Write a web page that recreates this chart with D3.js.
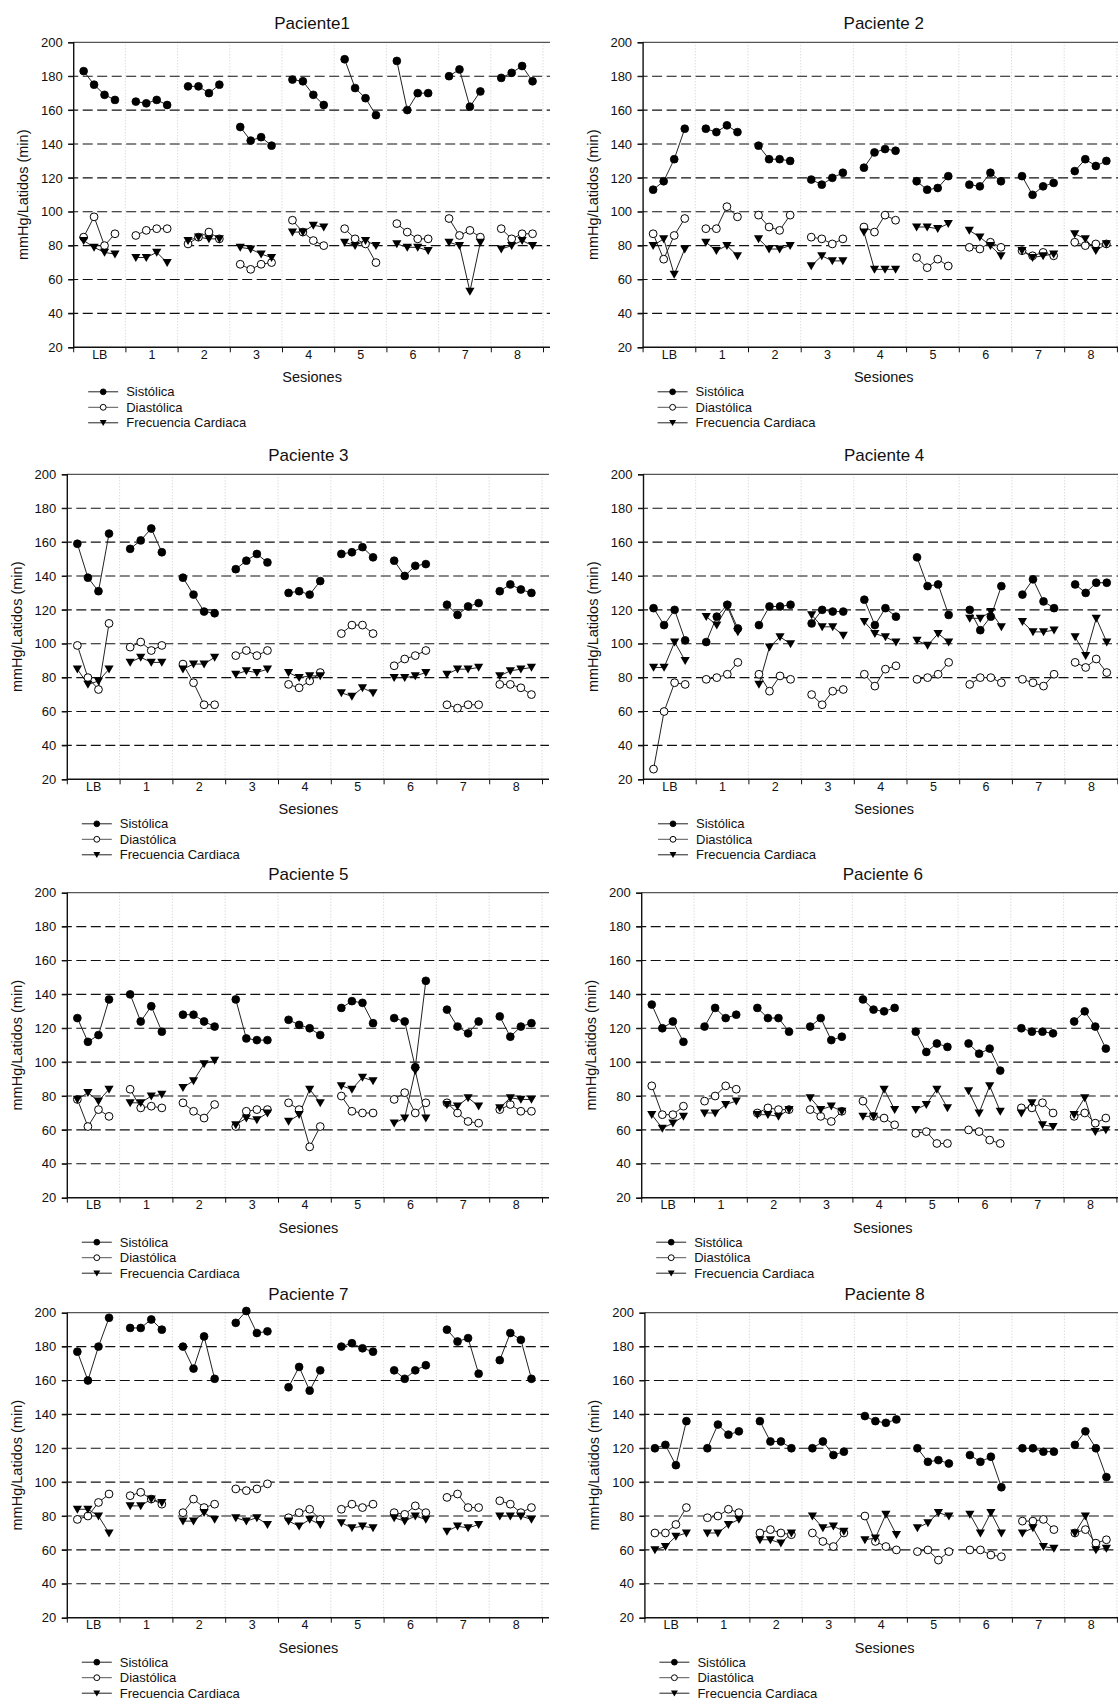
<!DOCTYPE html>
<html>
<head>
<meta charset="utf-8">
<script src="https://cdn.jsdelivr.net/npm/d3@7"></script>
<style>
  html, body { margin: 0; padding: 0; background: #fff; }
  svg { display: block; }
  text { font-family: "Liberation Sans", Arial, sans-serif; fill: #111; }
</style>
</head>
<body>
<svg id="chart" width="1118" height="1700"></svg>
<script>
// ---------------- DATA ----------------
const sessions = ["LB", "1", "2", "3", "4", "5", "6", "7", "8"];
const yTicks = [20, 40, 60, 80, 100, 120, 140, 160, 180, 200];
const gridValues = [40, 60, 80, 100, 120, 140, 160, 180];
const seriesNames = ["Sistólica", "Diastólica", "Frecuencia Cardiaca"];
const titles = ["Paciente1", "Paciente 2", "Paciente 3", "Paciente 4",
                "Paciente 5", "Paciente 6", "Paciente 7", "Paciente 8"];
const xTitle = "Sesiones";
const yTitle = "mmHg/Latidos (min)";

// 4 readings per session, sessions LB,1..8
const p1Sis = [183,175,169,166, 165,164,166,163, 174,174,170,175, 150,142,144,139, 178,177,169,163, 190,173,167,157, 189,160,170,170, 180,184,162,171, 179,182,186,177];
const p1Dia = [85,97,80,87, 86,89,90,90, 81,85,88,84, 69,66,69,70, 95,88,83,80, 90,84,81,70, 93,88,84,84, 96,86,89,85, 90,84,87,87];
const p1Fc  = [83,79,76,75, 73,73,76,70, 83,85,84,84, 79,78,75,73, 88,88,92,91, 82,80,83,80, 81,79,79,77, 82,80,53,82, 78,80,83,80];

const p2Sis = [113,118,131,149, 149,147,151,147, 139,131,131,130, 119,116,120,123, 126,135,137,136, 118,113,114,121, 116,115,123,118, 121,110,115,117, 124,131,127,130];
const p2Dia = [87,72,86,96, 90,90,103,97, 98,91,89,98, 85,84,81,84, 91,88,98,95, 73,67,72,68, 79,78,82,79, 77,74,76,74, 82,80,81,81];
const p2Fc  = [80,84,63,78, 82,77,80,74, 84,78,78,80, 68,74,71,71, 88,66,66,66, 91,91,90,93, 89,85,80,74, 77,73,74,75, 87,84,77,81];

const p3Sis = [159,139,131,165, 156,161,168,154, 139,129,119,118, 144,149,153,148, 130,131,129,137, 153,154,157,151, 149,140,146,147, 123,117,122,124, 131,135,132,130];
const p3Dia = [99,80,73,112, 98,101,96,99, 88,77,64,64, 93,96,93,96, 76,74,78,83, 106,111,111,106, 87,91,93,96, 64,62,64,64, 76,76,74,70];
const p3Fc  = [85,76,78,85, 89,92,89,89, 85,88,88,92, 82,84,83,85, 83,80,81,81, 71,69,74,71, 80,80,81,83, 82,85,85,86, 81,84,85,86];

const p4Sis = [121,111,120,102, 101,116,123,109, 111,122,122,123, 112,120,119,119, 126,111,121,116, 151,134,135,117, 120,108,116,134, 129,138,125,121, 135,130,136,136];
const p4Dia = [26,60,77,76, 79,80,82,89, 82,72,81,79, 70,64,72,73, 82,75,85,87, 79,80,82,89, 76,80,80,77, 79,77,75,82, 89,86,91,83];
const p4Fc  = [86,86,101,90, 116,111,122,107, 76,98,104,100, 117,110,110,105, 113,106,104,101, 102,99,106,101, 115,115,119,110, 113,107,107,108, 104,93,115,101];

const p5Sis = [126,112,116,137, 140,124,133,118, 128,128,124,121, 137,114,113,113, 125,122,120,116, 132,136,135,123, 126,124,97,148, 131,121,117,124, 127,115,121,123];
const p5Dia = [78,62,72,68, 84,73,74,73, 76,71,67,75, 62,71,72,72, 76,72,50,62, 80,71,70,70, 78,82,70,76, 76,70,65,64, 72,75,71,71];
const p5Fc  = [78,82,77,84, 76,76,80,81, 85,89,99,101, 63,67,66,70, 65,69,84,76, 86,84,91,89, 64,67,95,67, 75,74,79,74, 73,79,78,78];

const p6Sis = [134,120,124,112, 121,132,126,128, 132,126,126,118, 121,126,113,115, 137,131,130,132, 118,106,111,109, 111,105,108,95, 120,118,118,117, 124,130,121,108];
const p6Dia = [86,69,69,74, 77,80,86,84, 70,73,72,72, 72,68,65,71, 77,68,67,63, 58,59,52,52, 60,59,54,52, 73,73,76,70, 68,70,64,67];
const p6Fc  = [69,61,64,68, 70,70,75,77, 69,69,68,72, 79,72,74,71, 68,68,84,72, 72,75,84,73, 83,70,86,71, 70,76,63,62, 69,79,59,60];

const p7Sis = [177,160,180,197, 191,191,196,190, 180,167,186,161, 194,201,188,189, 156,168,154,166, 180,182,179,177, 166,161,166,169, 190,183,185,164, 172,188,184,161];
const p7Dia = [78,80,88,93, 92,94,90,87, 82,90,85,87, 96,95,96,99, 79,82,84,78, 84,87,85,87, 82,81,86,82, 91,93,85,85, 89,87,82,85];
const p7Fc  = [84,84,80,70, 86,86,90,88, 77,77,82,78, 79,77,79,75, 77,74,78,75, 76,73,74,73, 79,77,80,78, 71,74,73,75, 80,80,80,78];

const p8Sis = [120,122,110,136, 120,134,128,130, 136,124,124,120, 120,124,116,118, 139,136,135,137, 120,112,113,111, 116,112,115,97, 120,120,118,118, 122,130,120,103];
const p8Dia = [70,70,75,85, 79,80,84,82, 70,72,70,69, 70,65,62,70, 80,65,62,60, 59,60,54,59, 60,60,57,56, 77,77,78,72, 70,72,64,66];
const p8Fc  = [60,62,68,70, 70,70,75,78, 66,66,64,70, 80,73,74,71, 66,67,81,69, 73,76,82,80, 81,70,82,70, 70,73,62,61, 70,80,60,61];

const patients = [
  [p1Sis, p1Dia, p1Fc], [p2Sis, p2Dia, p2Fc],
  [p3Sis, p3Dia, p3Fc], [p4Sis, p4Dia, p4Fc],
  [p5Sis, p5Dia, p5Fc], [p6Sis, p6Dia, p6Fc],
  [p7Sis, p7Dia, p7Fc], [p8Sis, p8Dia, p8Fc]
];

// ---------------- LAYOUT ----------------
const panelLayout = [
  {x0: 73.2,  y0: 42.3,   bw: 52.2}, {x0: 642.6, y0: 42.3,   bw: 52.7},
  {x0: 66.8,  y0: 474.3,  bw: 52.8}, {x0: 643.0, y0: 474.3,  bw: 52.7},
  {x0: 66.8,  y0: 892.7,  bw: 52.8}, {x0: 641.2, y0: 892.7,  bw: 52.8},
  {x0: 66.8,  y0: 1312.7, bw: 52.8}, {x0: 644.4, y0: 1312.7, bw: 52.5}
];
const plotH = 305;
const perSession = 4;

const svg = d3.select("#chart");
svg.append("rect").attr("width", 1118).attr("height", 1700).attr("fill", "#fff");

function triPath(s) {
  return `M${-4.6 * s},${-3.6 * s}L${4.6 * s},${-3.6 * s}L0,${4.4 * s}Z`;
}

function drawMarker(g, type, cx, cy, scale) {
  const r = 3.9 * scale;
  if (type === 0) {
    g.append("circle").attr("cx", cx).attr("cy", cy).attr("r", r)
      .attr("fill", "#000").attr("stroke", "#000").attr("stroke-width", 0.8);
  } else if (type === 1) {
    g.append("circle").attr("cx", cx).attr("cy", cy).attr("r", r)
      .attr("fill", "#fff").attr("stroke", "#000").attr("stroke-width", 1);
  } else {
    g.append("path").attr("d", triPath(scale))
      .attr("transform", `translate(${cx},${cy})`)
      .attr("fill", "#000");
  }
}

patients.forEach((series, pi) => {
  const L = panelLayout[pi];
  const g = svg.append("g");
  const nS = sessions.length;
  const x = d3.scaleLinear().domain([0, nS]).range([L.x0, L.x0 + nS * L.bw]);
  const y = d3.scaleLinear().domain([20, 200]).range([L.y0 + plotH, L.y0]);
  const xEnd = x(nS) + 7;

  // vertical dotted grid at session boundaries
  g.selectAll(".vg").data(d3.range(1, nS + 1)).enter().append("line")
    .attr("x1", d => x(d)).attr("x2", d => x(d))
    .attr("y1", y(200)).attr("y2", y(20))
    .attr("stroke", "#c0c0c0").attr("stroke-width", 0.8)
    .attr("stroke-dasharray", "1,2");

  // horizontal dashed grid
  g.selectAll(".hg").data(gridValues).enter().append("line")
    .attr("x1", L.x0 - 5).attr("x2", xEnd)
    .attr("y1", d => y(d)).attr("y2", d => y(d))
    .attr("stroke", "#111").attr("stroke-width", 1.1)
    .attr("stroke-dasharray", "10,4.5");

  // top frame
  g.append("line").attr("x1", L.x0).attr("x2", xEnd)
    .attr("y1", y(200)).attr("y2", y(200))
    .attr("stroke", "#555").attr("stroke-width", 1.3);

  // y axis
  const yAxis = d3.axisLeft(y).tickValues(yTicks).tickSize(5).tickPadding(5.5);
  const ya = g.append("g").attr("transform", `translate(${L.x0},0)`).call(yAxis);
  ya.select(".domain").attr("stroke", "#111").attr("stroke-width", 1.4);
  ya.selectAll(".tick line").attr("stroke", "#111");
  ya.selectAll(".tick text").style("font-size", "13px").attr("fill", "#222")
    .style("font-family", '"Liberation Sans", Arial, sans-serif');

  // x axis: boundary ticks
  const xAxis = d3.axisBottom(x).tickValues(d3.range(0, nS + 1)).tickSize(5).tickFormat("");
  const xa = g.append("g").attr("transform", `translate(0,${y(20)})`).call(xAxis);
  xa.select(".domain").remove();
  xa.selectAll(".tick line").attr("stroke", "#111");
  g.append("line").attr("x1", L.x0).attr("x2", xEnd)
    .attr("y1", y(20)).attr("y2", y(20))
    .attr("stroke", "#111").attr("stroke-width", 1.4);

  // x labels at session centers
  const xLab = d3.axisBottom(x).tickValues(d3.range(0, nS).map(i => i + 0.5))
    .tickSize(0).tickPadding(2.5).tickFormat((d, i) => sessions[i]);
  const xl = g.append("g").attr("transform", `translate(0,${y(20)})`).call(xLab);
  xl.select(".domain").remove();
  xl.selectAll(".tick text").style("font-size", "12.5px").attr("fill", "#222")
    .style("font-family", '"Liberation Sans", Arial, sans-serif');

  // titles
  const cx = (x(0) + x(nS)) / 2;
  g.append("text").attr("x", cx + 4).attr("y", L.y0 - 19).attr("dy", "0.35em")
    .attr("text-anchor", "middle").style("font-size", "17px").text(titles[pi]);
  g.append("text").attr("x", cx + 4).attr("y", y(20) + 30).attr("dy", "0.35em")
    .attr("text-anchor", "middle").style("font-size", "14.5px").attr("fill", "#222").text(xTitle);
  g.append("text")
    .attr("transform", `translate(${L.x0 - 50},${(y(20) + y(200)) / 2}) rotate(-90)`)
    .attr("dy", "0.35em").attr("text-anchor", "middle")
    .style("font-size", "14.5px").attr("fill", "#222").text(yTitle);

  // series
  const line = d3.line().x(d => d[0]).y(d => d[1]);
  series.forEach((vals) => {
    const sg = g.append("g");
    for (let s = 0; s < nS; s++) {
      const pts = vals.slice(s * perSession, (s + 1) * perSession)
        .map((v, k) => [x(s + (k + 1) / (perSession + 1)), y(v)]);
      sg.append("path").attr("d", line(pts)).attr("fill", "none")
        .attr("stroke", "#222").attr("stroke-width", 1);
    }
  });
  series.forEach((vals, si) => {
    const mg = g.append("g");
    vals.forEach((v, idx) => {
      const s = Math.floor(idx / perSession), k = idx % perSession;
      drawMarker(mg, si, x(s + (k + 1) / (perSession + 1)), y(v), 1);
    });
  });

  // legend
  const lg = g.append("g");
  seriesNames.forEach((name, si) => {
    const ly = y(20) + 44.5 + si * 15.5;
    lg.append("line").attr("x1", L.x0 + 15).attr("x2", L.x0 + 45)
      .attr("y1", ly).attr("y2", ly).attr("stroke", si === 1 ? "#555" : "#222").attr("stroke-width", 1);
    drawMarker(lg, si, L.x0 + 30, ly, 0.75);
    lg.append("text").attr("x", L.x0 + 53).attr("y", ly).attr("dy", "0.35em")
      .style("font-size", "13px").attr("fill", "#222").text(name);
  });
});
</script>
</body>
</html>
